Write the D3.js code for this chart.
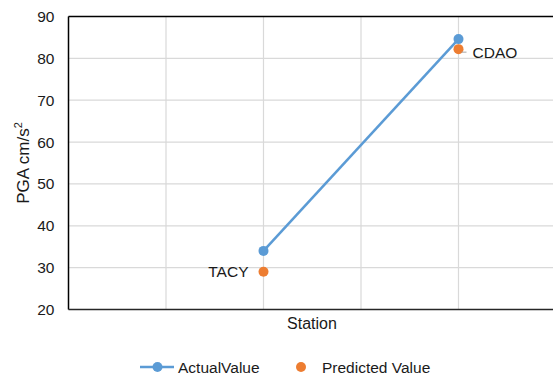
<!DOCTYPE html>
<html>
<head>
<meta charset="utf-8">
<script src="https://cdn.jsdelivr.net/npm/d3@7"></script>
<style>
  body { margin: 0; background: #fff; }
  svg { font-family: "Liberation Sans", Arial, sans-serif; }
</style>
</head>
<body>
<div id="chart"></div>
<script>
// Station data (x position on category axis 0..5)
const stations = ['TACY', 'CDAO'];
const stationPos = [2, 4];
const actualValues = [34.0, 84.6];
const predictedValues = [29.0, 82.2];
const yTicks = [20, 30, 40, 50, 60, 70, 80, 90];
const xGrid = [0, 1, 2, 3, 4, 5];

const W = 553, H = 376;
const margin = { top: 16.5, right: -3, bottom: 66.5, left: 68.5 };
const width = W - margin.left - margin.right;
const height = H - margin.top - margin.bottom;

const blue = '#5B9BD5';
const orange = '#ED7D31';
const gridColor = '#d9d9d9';
const textColor = '#1a1a1a';

const svg = d3.select('#chart').append('svg')
  .attr('width', W)
  .attr('height', H);

const g = svg.append('g')
  .attr('transform', `translate(${margin.left},${margin.top})`);

const x = d3.scaleLinear().domain([0, 5]).range([0, width]);
const y = d3.scaleLinear().domain([20, 90]).range([height, 0]);

// grid lines
g.append('g').selectAll('line')
  .data(yTicks)
  .join('line')
  .attr('x1', 0).attr('x2', width)
  .attr('y1', d => y(d)).attr('y2', d => y(d))
  .attr('stroke', gridColor).attr('stroke-width', 1.2);

g.append('g').selectAll('line')
  .data(xGrid.slice(1))
  .join('line')
  .attr('x1', d => x(d)).attr('x2', d => x(d))
  .attr('y1', 0).attr('y2', height)
  .attr('stroke', gridColor).attr('stroke-width', 1.2);

// axes lines (left, bottom, top border)
g.append('line').attr('x1', 0).attr('x2', 0).attr('y1', 0).attr('y2', height)
  .attr('stroke', '#000').attr('stroke-width', 1.5);
g.append('line').attr('x1', 0).attr('x2', width).attr('y1', height).attr('y2', height)
  .attr('stroke', '#262626').attr('stroke-width', 1.5);
g.append('line').attr('x1', 0).attr('x2', width).attr('y1', 0).attr('y2', 0)
  .attr('stroke', '#000').attr('stroke-width', 1.5);

// y axis labels
const yAxis = d3.axisLeft(y).tickValues(yTicks).tickSize(0).tickPadding(14);
const yAxisG = g.append('g').call(yAxis);
yAxisG.select('.domain').remove();
yAxisG.selectAll('text')
  .style('font-size', '15.5px')
  .style('fill', textColor)
  .style('font-family', '"Liberation Sans", Arial, sans-serif');

// axis titles
svg.append('text')
  .attr('transform', `translate(29,${margin.top + height / 2}) rotate(-90)`)
  .attr('text-anchor', 'middle')
  .style('font-size', '17px')
  .style('fill', textColor)
  .html('PGA cm/s<tspan dy="-7" font-size="11px">2</tspan>');

svg.append('text')
  .attr('x', 312)
  .attr('y', 329)
  .attr('text-anchor', 'middle')
  .style('font-size', '16px')
  .style('fill', textColor)
  .text('Station');

// actual line + markers
const actualData = stations.map((s, i) => ({ s, x: stationPos[i], v: actualValues[i] }));
const predData = stations.map((s, i) => ({ s, x: stationPos[i], v: predictedValues[i] }));

g.append('path')
  .datum(actualData)
  .attr('fill', 'none')
  .attr('stroke', blue)
  .attr('stroke-width', 2.5)
  .attr('d', d3.line().x(d => x(d.x)).y(d => y(d.v)));

g.selectAll('circle.actual')
  .data(actualData)
  .join('circle')
  .attr('class', 'actual')
  .attr('cx', d => x(d.x)).attr('cy', d => y(d.v))
  .attr('r', 5)
  .attr('fill', blue);

g.selectAll('circle.pred')
  .data(predData)
  .join('circle')
  .attr('class', 'pred')
  .attr('cx', d => x(d.x)).attr('cy', d => y(d.v))
  .attr('r', 5)
  .attr('fill', orange);

// data labels
const tacy = predData[0];
g.append('text')
  .attr('x', x(tacy.x) - 15)
  .attr('y', y(tacy.v) + 5.5)
  .attr('text-anchor', 'end')
  .style('font-size', '15.5px')
  .style('fill', textColor)
  .text(tacy.s);

const cdao = predData[1];
g.append('line')
  .attr('x1', x(cdao.x) + 3).attr('x2', x(cdao.x) + 8)
  .attr('y1', y(cdao.v) + 3).attr('y2', y(cdao.v) + 3)
  .attr('stroke', '#a6a6a6').attr('stroke-width', 1);
g.append('text')
  .attr('x', x(cdao.x) + 14)
  .attr('y', y(cdao.v) + 8.5)
  .attr('text-anchor', 'start')
  .style('font-size', '15.5px')
  .style('fill', textColor)
  .text(cdao.s);

// legend
const ly = 367;
const legend = svg.append('g');
legend.append('line')
  .attr('x1', 140).attr('x2', 174).attr('y1', ly).attr('y2', ly)
  .attr('stroke', blue).attr('stroke-width', 2.5);
legend.append('circle').attr('cx', 157.5).attr('cy', ly).attr('r', 5).attr('fill', blue);
legend.append('text')
  .attr('x', 178).attr('y', ly + 5.5)
  .style('font-size', '15.5px').style('fill', textColor)
  .text('ActualValue');
legend.append('circle').attr('cx', 301).attr('cy', ly).attr('r', 5).attr('fill', orange);
legend.append('text')
  .attr('x', 322).attr('y', ly + 5.5)
  .style('font-size', '15.5px').style('fill', textColor)
  .text('Predicted Value');
</script>
</body>
</html>
